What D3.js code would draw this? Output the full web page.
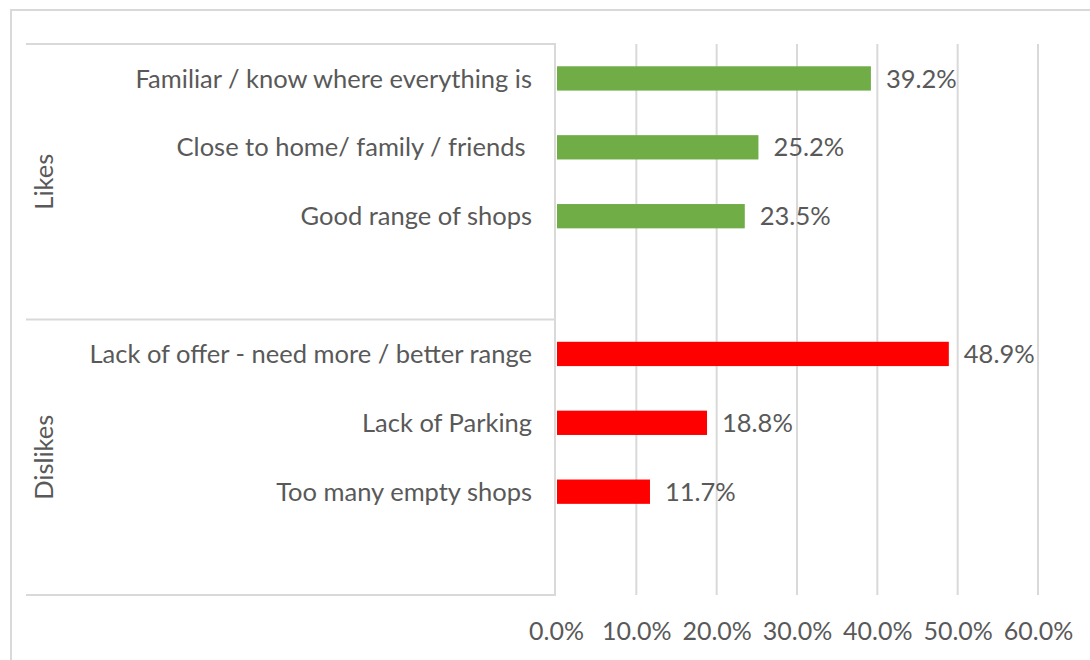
<!DOCTYPE html>
<html>
<head>
<meta charset="utf-8">
<script src="https://cdn.jsdelivr.net/npm/d3@7"></script>
<style>
  html, body { margin: 0; padding: 0; background: #ffffff; }
  svg { display: block; }
  text { font-family: "Lato", "Open Sans", sans-serif; fill: #595959; }
</style>
</head>
<body>
<svg id="chart" width="1090" height="660"></svg>
<script>
// Survey responses, grouped into likes and dislikes
const groupNames = ["Likes", "Dislikes"];
const likeItems = [
  "Familiar / know where everything is",
  "Close to home/ family / friends ",
  "Good range of shops"
];
const likeValues = [0.392, 0.252, 0.235];
const dislikeItems = [
  "Lack of offer - need more / better range",
  "Lack of Parking",
  "Too many empty shops"
];
const dislikeValues = [0.489, 0.188, 0.117];
const xTickValues = [0, 0.1, 0.2, 0.3, 0.4, 0.5, 0.6];
const groupColors = ["#70AD47", "#FF0000"];

// Each group gets its items plus one empty slot below them
const rows = [];
[[likeItems, likeValues], [dislikeItems, dislikeValues]].forEach(([items, vals], g) => {
  items.forEach((label, i) => rows.push({ key: g + "-" + i, label, value: vals[i], group: g }));
  rows.push({ key: g + "-gap", label: "", value: null, group: g });
});

const svg = d3.select("#chart");
const plot = { left: 556, right: 1038, top: 44, bottom: 595 };

const x = d3.scaleLinear().domain([0, 0.6]).range([plot.left, plot.right]);
const y = d3.scaleBand()
  .domain(rows.map(d => d.key))
  .range([plot.top, plot.bottom])
  .paddingInner(0.647)
  .paddingOuter(0.3235);

const lineColor = "#d9d9d9";

// Outer frame (left and top edges visible)
svg.append("rect")
  .attr("x", 11).attr("y", 10)
  .attr("width", 1200).attr("height", 800)
  .attr("fill", "none")
  .attr("stroke", lineColor)
  .attr("stroke-width", 2);

// Vertical gridlines
svg.append("g")
  .selectAll("line")
  .data(xTickValues.filter(v => v > 0))
  .join("line")
  .attr("x1", d => x(d)).attr("x2", d => x(d))
  .attr("y1", plot.top).attr("y2", plot.bottom)
  .attr("stroke", lineColor)
  .attr("stroke-width", 2);

// Bottom axis with percentage labels
const xAxis = d3.axisBottom(x)
  .tickValues(xTickValues)
  .tickFormat(d3.format(".1%"))
  .tickSize(0)
  .tickPadding(27);
const gx = svg.append("g")
  .attr("transform", `translate(0,${plot.bottom})`)
  .call(xAxis);
gx.select(".domain").remove();
gx.selectAll("text")
  .attr("font-size", 25)
  .style("font-family", "Lato, 'Open Sans', sans-serif")
  .attr("fill", "#595959");

// Category axis: group separators and the vertical axis line
const boundaries = [plot.top, (plot.top + plot.bottom) / 2, plot.bottom];
const groupEdges = groupNames.map((_, g) => {
  const keys = rows.filter(r => r.group === g).map(r => r.key);
  return [y(keys[0]) - y.step() * y.paddingOuter(), y(keys[keys.length - 1]) + y.bandwidth() + y.step() * y.paddingOuter()];
});

svg.append("g")
  .selectAll("line")
  .data(boundaries)
  .join("line")
  .attr("x1", 26).attr("x2", plot.left)
  .attr("y1", d => d).attr("y2", d => d)
  .attr("stroke", lineColor)
  .attr("stroke-width", 2);

svg.append("line")
  .attr("x1", plot.left - 1).attr("x2", plot.left - 1)
  .attr("y1", plot.top - 1).attr("y2", plot.bottom + 1)
  .attr("stroke", lineColor)
  .attr("stroke-width", 2);

// Bars
const data = rows.filter(r => r.value !== null);
svg.append("g")
  .selectAll("rect")
  .data(data)
  .join("rect")
  .attr("x", x(0) + 1)
  .attr("y", d => y(d.key))
  .attr("width", d => x(d.value) - x(0) - 1)
  .attr("height", y.bandwidth())
  .attr("fill", d => groupColors[d.group]);

// Value labels
svg.append("g")
  .selectAll("text")
  .data(data)
  .join("text")
  .attr("x", d => x(d.value) + 15)
  .attr("y", d => y(d.key) + y.bandwidth() / 2)
  .attr("dy", "0.36em")
  .attr("font-size", 25.5)
  .text(d => d3.format(".1%")(d.value));

// Category labels
svg.append("g")
  .selectAll("text")
  .data(data)
  .join("text")
  .attr("x", 532)
  .attr("y", d => y(d.key) + y.bandwidth() / 2)
  .attr("dy", "0.36em")
  .attr("text-anchor", "end")
  .attr("font-size", 25.5)
  .style("white-space", "pre")
  .text(d => d.label);

// Group labels, rotated
svg.append("g")
  .selectAll("text")
  .data(groupNames)
  .join("text")
  .attr("transform", (d, g) => `translate(53,${(groupEdges[g][0] + groupEdges[g][1]) / 2}) rotate(-90)`)
  .attr("text-anchor", "middle")
  .attr("font-size", 25.5)
  .text(d => d);
</script>
</body>
</html>
